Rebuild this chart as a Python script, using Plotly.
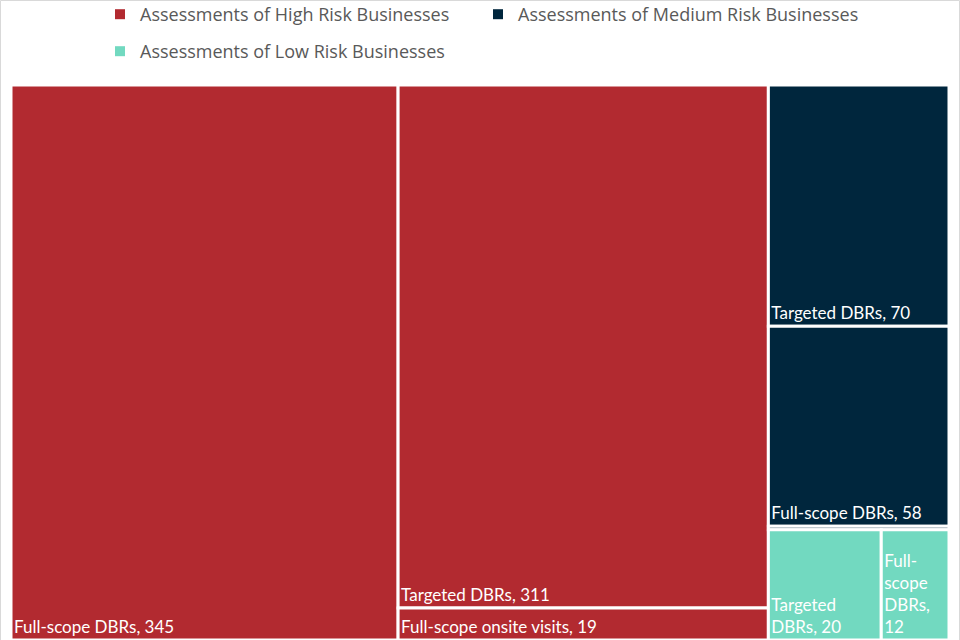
import plotly.graph_objects as go

# ---- data ----
groups = ["Assessments of High Risk Businesses",
          "Assessments of Medium Risk Businesses",
          "Assessments of Low Risk Businesses"]
group_colors = ["#B22A30", "#00263D", "#72D9C0"]

high_labels = ["Full-scope DBRs", "Targeted DBRs", "Full-scope onsite visits"]
high_values = [345, 311, 19]
medium_labels = ["Targeted DBRs", "Full-scope DBRs", "Full-scope onsite visits"]
medium_values = [70, 58, 1]
low_labels = ["Targeted DBRs", "Full-scope DBRs"]
low_values = [20, 12]

# display text (manual wraps for the narrow tiles; tiny tile has no label)
high_text = ["Full-scope DBRs, 345", "Targeted DBRs, 311", "Full-scope onsite visits, 19"]
medium_text = ["Targeted DBRs, 70", "Full-scope DBRs, 58", ""]
low_text = ["Targeted<br>DBRs, 20", "Full-<br>scope<br>DBRs,<br>12"]

# ---- build hierarchy ----
ids, labels, parents, values, colors, texts = [], [], [], [], [], []
leaf_sets = [(high_labels, high_values, high_text),
             (medium_labels, medium_values, medium_text),
             (low_labels, low_values, low_text)]
for g, col, (ls, vs, ts) in zip(groups, group_colors, leaf_sets):
    ids.append(g); labels.append(g); parents.append(""); values.append(sum(vs))
    colors.append(col); texts.append("")
    for l, v, t in zip(ls, vs, ts):
        ids.append(g + "/" + l); labels.append(l); parents.append(g)
        values.append(v); colors.append(col); texts.append(t)

fig = go.Figure()
fig.add_trace(go.Treemap(
    ids=ids, labels=labels, parents=parents, values=values,
    branchvalues="total",
    text=texts, texttemplate="%{text}",
    textposition="bottom left",
    textfont=dict(family="Lato", size=17, color="white"),
    marker=dict(colors=colors, line=dict(color="white", width=3),
                pad=dict(t=0, l=0, r=0, b=0)),
    tiling=dict(pad=0, packing="squarify"),
    pathbar=dict(visible=False),
    sort=True,
    hoverinfo="label+value",
))

# legend entries (dummy traces)
legend_ids = ["legend", "legend3", "legend2"]
for g, col, lid in zip(groups, group_colors, legend_ids):
    fig.add_trace(go.Scatter(
        x=[None], y=[None], mode="markers", name=g,
        marker=dict(symbol="square", size=10, color=col),
        showlegend=True, legend=lid,
    ))

W, H, L, R, T, B = 960, 640, 11, 11, 85, 0
pw, ph = W - L - R, H - T - B
legend_font = dict(family="Open Sans", size=18, color="#595959")

fig.update_layout(
    width=W, height=H,
    margin=dict(l=L, r=R, t=T, b=B, autoexpand=False),
    paper_bgcolor="white", plot_bgcolor="white",
    xaxis=dict(visible=False), yaxis=dict(visible=False),
    legend=dict(orientation="h", x=(100 - L) / pw, y=1 + (T + 4) / ph,
                xanchor="left", yanchor="top",
                font=legend_font, bgcolor="rgba(0,0,0,0)"),
    legend3=dict(orientation="h", x=(478 - L) / pw, y=1 + (T + 4) / ph,
                 xanchor="left", yanchor="top",
                 font=legend_font, bgcolor="rgba(0,0,0,0)"),
    legend2=dict(orientation="h", x=(100 - L) / pw, y=1 + (T - 33) / ph,
                 xanchor="left", yanchor="top",
                 font=legend_font, bgcolor="rgba(0,0,0,0)"),
    shapes=[dict(type="rect", xref="paper", yref="paper",
                 x0=(-L + 0.5) / pw, x1=1 + (R - 0.5) / pw,
                 y0=-0.01, y1=1 + (T - 0.5) / ph,
                 line=dict(color="#D9D9D9", width=1), fillcolor="rgba(0,0,0,0)", layer="below")],
)

fig.write_html("out.html",
               config={"displayModeBar": False},
               post_script="document.body.style.margin='0';document.body.style.overflow='hidden';")
